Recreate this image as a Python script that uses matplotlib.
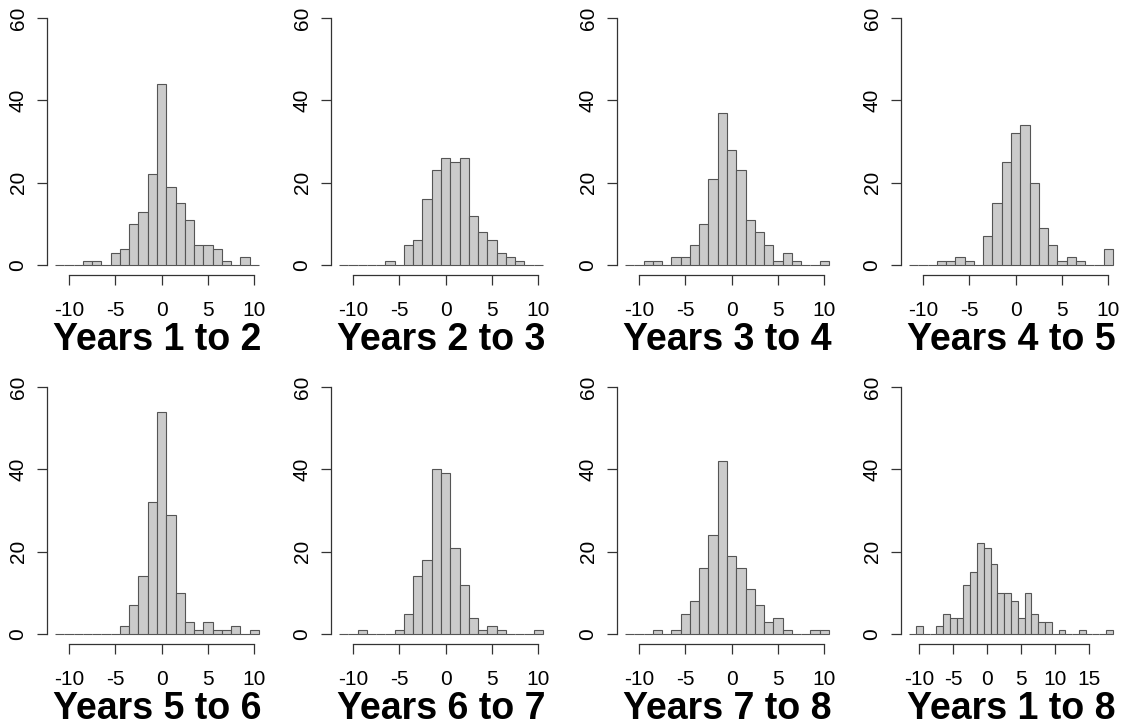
import numpy as np
import matplotlib
matplotlib.use("Agg")
import matplotlib.pyplot as plt

plt.rcParams['font.family'] = ['Liberation Sans', 'DejaVu Sans']

# counts per unit-wide bin, bins start at -11.5
break_start = -11.5
years_1_2 = [0, 0, 0, 1, 1, 0, 3, 4, 10, 13, 22, 44, 19, 15, 11, 5, 5, 4, 1, 0, 2, 0]
years_2_3 = [0, 0, 0, 0, 0, 1, 0, 5, 6, 16, 23, 26, 25, 26, 12, 8, 6, 3, 2, 1, 0, 0]
years_3_4 = [0, 0, 1, 1, 0, 2, 2, 5, 10, 21, 37, 28, 23, 11, 8, 5, 1, 3, 1, 0, 0, 1]
years_4_5 = [0, 0, 0, 1, 1, 2, 1, 0, 7, 15, 25, 32, 34, 20, 9, 5, 1, 2, 1, 0, 0, 4]
years_5_6 = [0, 0, 0, 0, 0, 0, 0, 2, 7, 14, 32, 54, 29, 10, 3, 1, 3, 1, 1, 2, 0, 1]
years_6_7 = [0, 0, 1, 0, 0, 0, 1, 5, 14, 18, 40, 39, 21, 12, 4, 1, 2, 1, 0, 0, 0, 1]
years_7_8 = [0, 0, 0, 1, 0, 1, 5, 8, 16, 24, 42, 19, 16, 11, 7, 3, 4, 1, 0, 0, 1, 1]
years_1_8 = [0, 2, 0, 0, 2, 5, 4, 4, 12, 15, 22, 21, 17, 10, 10, 8, 4, 10, 5, 3, 3,
             0, 1, 0, 0, 1, 0, 0, 0, 1]

titles = ["Years 1 to 2", "Years 2 to 3", "Years 3 to 4", "Years 4 to 5",
          "Years 5 to 6", "Years 6 to 7", "Years 7 to 8", "Years 1 to 8"]
all_counts = [years_1_2, years_2_3, years_3_4, years_4_5,
              years_5_6, years_6_7, years_7_8, years_1_8]
xticks_short = [-10, -5, 0, 5, 10]
xticks_long = [-10, -5, 0, 5, 10, 15]
yticks = [0, 20, 40, 60]

W, H = 1138, 728
fig = plt.figure(figsize=(W / 100, H / 100), dpi=100)

col_left = [47, 331, 617, 901]
row_top = [8, 377]
ax_w, ax_h = 220, 267

for i, (counts, title) in enumerate(zip(all_counts, titles)):
    r, c = divmod(i, 4)
    left = col_left[c] / W
    bottom = 1 - (row_top[r] + ax_h) / H
    ax = fig.add_axes([left, bottom, ax_w / W, ax_h / H])

    counts = np.array(counts)
    edges = break_start + np.arange(len(counts) + 1)
    centers = edges[:-1] + 0.5
    ax.hist(centers, bins=edges, weights=counts, color="#cbcbcb",
            edgecolor="#555555", linewidth=0.8)

    # R-style 4% padding around the data range
    span = edges[-1] - edges[0]
    ax.set_xlim(edges[0] - 0.04 * span, edges[-1] + 0.04 * span)
    ax.set_ylim(-2.4, 62.4)

    xt = xticks_long if len(counts) > 22 else xticks_short
    ax.set_xticks(xt)
    ax.set_xticklabels([str(t) for t in xt])
    ax.set_yticks(yticks)
    ax.set_yticklabels([str(t) for t in yticks], rotation=90, va="center")

    for s in ["top", "right"]:
        ax.spines[s].set_visible(False)
    ax.spines["left"].set_bounds(yticks[0], yticks[-1])
    ax.spines["bottom"].set_bounds(xt[0], xt[-1])
    for s in ["left", "bottom"]:
        ax.spines[s].set_color("#333333")
        ax.spines[s].set_linewidth(0.9)

    ax.tick_params(axis="both", direction="out", length=7, width=0.9,
                   color="#333333", labelsize=15)
    ax.tick_params(axis="x", pad=12)
    ax.tick_params(axis="y", pad=7)

    ax.set_xlabel(title, fontsize=27, fontweight="bold", labelpad=1)

fig.savefig("out.png", dpi=100)
